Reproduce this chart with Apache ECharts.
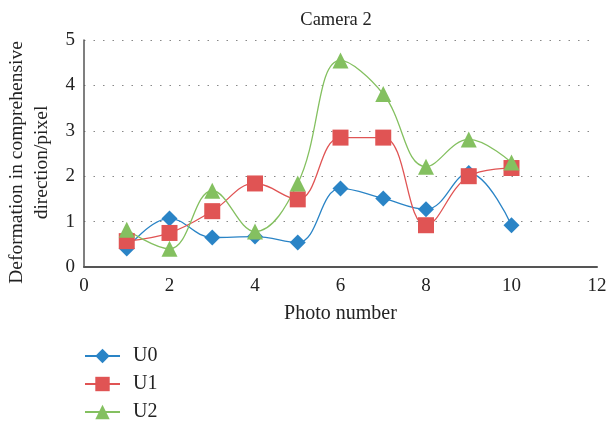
<!DOCTYPE html>
<html><head><meta charset="utf-8">
<script src="https://cdn.jsdelivr.net/npm/echarts@6/dist/echarts.min.js"></script>
<style>html,body{margin:0;padding:0;background:#fff}#c{width:607px;height:421px}</style>
</head><body><div id="c"></div>
<script>
const photos = [1,2,3,4,5,6,7,8,9,10];
const U0 = [0.41,1.07,0.65,0.67,0.54,1.73,1.51,1.27,2.07,0.92];
const U1 = [0.57,0.75,1.23,1.84,1.49,2.85,2.85,0.92,2.00,2.18];
const U2 = [0.82,0.40,1.68,0.78,1.84,4.55,3.81,2.21,2.81,2.30];
const xTicks = [0,2,4,6,8,10,12];
const yTicks = [0,1,2,3,4,5];
const font = '"Liberation Serif", "DejaVu Serif", serif';
function pts(v){return photos.map((p,i)=>[p,v[i]]);}
const chart = echarts.init(document.getElementById('c'));
function ser(name, data, color, symbol, size){
  return {name, type:'line', data:pts(data), smooth:0.4, symbol, symbolSize:size,
    lineStyle:{color, width:1.3}, itemStyle:{color}, z: 2};
}
chart.setOption({
  animation:false,
  title:{text:'Camera 2', left:331, top:6, textAlign:'center',
    textStyle:{fontFamily:font, fontSize:18.5, fontWeight:'normal', color:'#222'}},
  grid:{left:84, right:10, top:40, bottom:154, containLabel:false, outerBoundsMode:'none'},
  xAxis:{type:'value', min:xTicks[0], max:xTicks[xTicks.length-1], interval:2, name:'Photo number', nameLocation:'middle', nameGap:37,
    nameTextStyle:{fontFamily:font, fontSize:20, color:'#222'},
    axisLine:{lineStyle:{color:'#555', width:2}}, axisTick:{show:false}, splitLine:{show:false},
    axisLabel:{fontFamily:font, fontSize:19, color:'#222', margin:10}},
  yAxis:{type:'value', min:yTicks[0], max:yTicks[yTicks.length-1], interval:1,
    name:'Deformation in comprehensive\ndirection/pixel', nameLocation:'middle', nameGap:22,
    nameTextStyle:{fontFamily:font, fontSize:19.5, color:'#222', lineHeight:25, padding:[0,18,0,0]},
    axisLine:{show:true, lineStyle:{color:'#555', width:1.5}}, axisTick:{show:false},
    splitLine:{lineStyle:{color:'#888', type:[1.5,8], width:1.2}},
    axisLabel:{fontFamily:font, fontSize:19, color:'#222', margin:9}},
  legend:{orient:'vertical', left:84, top:346, height:120, width:150, padding:0, itemGap:8, itemWidth:35, itemHeight:18,
    textStyle:{fontFamily:font, fontSize:20, lineHeight:19, color:'#222', padding:[0,0,0,8]}, data:['U0','U1','U2']},
  series:[
    ser('U0', U0, '#2a84c6', 'diamond', 16),
    ser('U1', U1, '#e05454', 'rect', 16),
    ser('U2', U2, '#84c060', 'triangle', 16)
  ]
});
</script></body></html>
